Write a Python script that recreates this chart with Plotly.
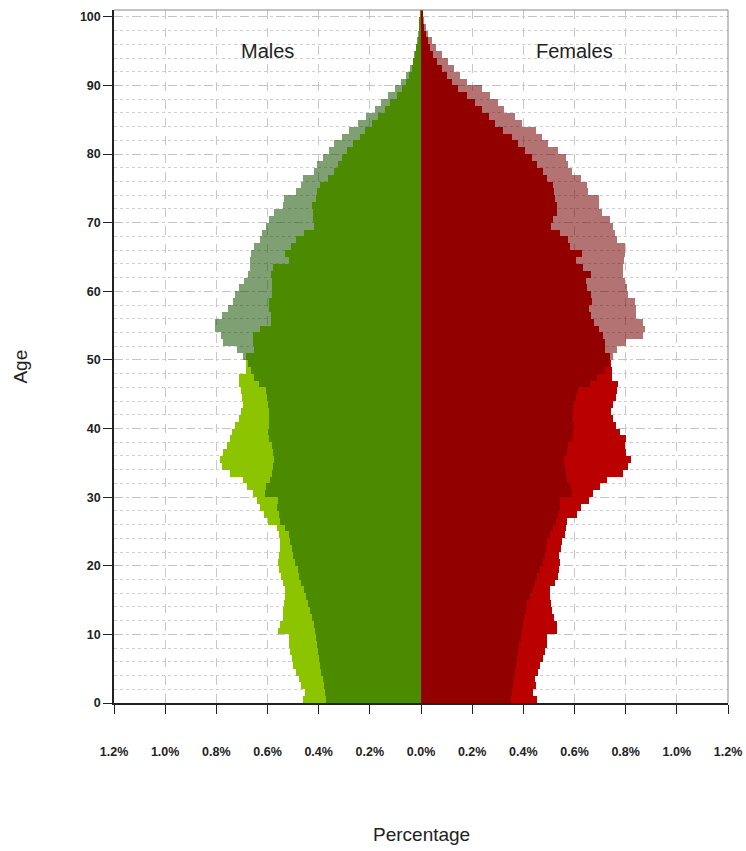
import plotly.graph_objects as go

ages = list(range(0, 101))

male_total = [
    0.463, 0.455, 0.471, 0.475, 0.488, 0.502, 0.503, 0.512, 0.516, 0.515,
    0.559, 0.553, 0.540, 0.538, 0.537, 0.533, 0.532, 0.540, 0.548, 0.557,
    0.560, 0.556, 0.550, 0.550, 0.555, 0.563, 0.598, 0.615, 0.628, 0.643,
    0.658, 0.680, 0.696, 0.748, 0.776, 0.785, 0.775, 0.759, 0.746, 0.737,
    0.728, 0.713, 0.703, 0.697, 0.700, 0.705, 0.712, 0.712, 0.686, 0.686,
    0.696, 0.720, 0.774, 0.783, 0.804, 0.806, 0.778, 0.755, 0.735, 0.729,
    0.713, 0.692, 0.677, 0.670, 0.667, 0.664, 0.651, 0.628, 0.621, 0.606,
    0.593, 0.573, 0.541, 0.534, 0.489, 0.470, 0.463, 0.420, 0.408, 0.384,
    0.360, 0.340, 0.310, 0.280, 0.245, 0.215, 0.180, 0.155, 0.128, 0.102,
    0.080, 0.059, 0.043, 0.033, 0.026, 0.020, 0.014, 0.010, 0.007, 0.004,
    0.002,
]

male_base = [
    0.372, 0.376, 0.381, 0.385, 0.389, 0.394, 0.398, 0.402, 0.405, 0.409,
    0.414, 0.420, 0.427, 0.433, 0.441, 0.450, 0.459, 0.470, 0.476, 0.482,
    0.493, 0.501, 0.506, 0.511, 0.516, 0.530, 0.551, 0.554, 0.563, 0.560,
    0.609, 0.606, 0.589, 0.582, 0.580, 0.576, 0.578, 0.584, 0.593, 0.599,
    0.595, 0.593, 0.593, 0.599, 0.603, 0.606, 0.632, 0.651, 0.664, 0.677,
    0.683, 0.651, 0.655, 0.655, 0.628, 0.586, 0.586, 0.593, 0.593, 0.584,
    0.584, 0.584, 0.586, 0.580, 0.515, 0.532, 0.508, 0.489, 0.457, 0.418,
    0.424, 0.424, 0.427, 0.411, 0.405, 0.394, 0.365, 0.340, 0.323, 0.310,
    0.290, 0.264, 0.238, 0.219, 0.193, 0.167, 0.141, 0.121, 0.095, 0.076,
    0.059, 0.046, 0.037, 0.030, 0.023, 0.018, 0.013, 0.009, 0.007, 0.004,
    0.002,
]

female_total = [
    0.454, 0.439, 0.448, 0.445, 0.458, 0.464, 0.475, 0.484, 0.493, 0.493,
    0.533, 0.532, 0.519, 0.513, 0.510, 0.506, 0.503, 0.523, 0.535, 0.539,
    0.542, 0.539, 0.548, 0.552, 0.561, 0.568, 0.569, 0.608, 0.627, 0.658,
    0.673, 0.700, 0.728, 0.790, 0.810, 0.819, 0.803, 0.797, 0.801, 0.777,
    0.762, 0.751, 0.742, 0.751, 0.762, 0.767, 0.771, 0.745, 0.745, 0.742,
    0.749, 0.765, 0.803, 0.868, 0.875, 0.868, 0.842, 0.842, 0.836, 0.810,
    0.807, 0.797, 0.790, 0.790, 0.793, 0.797, 0.797, 0.765, 0.758, 0.749,
    0.738, 0.706, 0.697, 0.697, 0.654, 0.647, 0.627, 0.589, 0.576, 0.565,
    0.536, 0.497, 0.474, 0.448, 0.393, 0.367, 0.326, 0.302, 0.270, 0.237,
    0.178, 0.152, 0.130, 0.107, 0.081, 0.057, 0.042, 0.029, 0.020, 0.013,
    0.009,
]

female_base = [
    0.352, 0.357, 0.361, 0.365, 0.368, 0.372, 0.374, 0.378, 0.383, 0.390,
    0.394, 0.397, 0.403, 0.409, 0.415, 0.426, 0.436, 0.445, 0.454, 0.464,
    0.475, 0.484, 0.490, 0.494, 0.503, 0.516, 0.527, 0.536, 0.543, 0.545,
    0.589, 0.586, 0.569, 0.566, 0.563, 0.560, 0.569, 0.576, 0.595, 0.595,
    0.598, 0.595, 0.595, 0.598, 0.605, 0.615, 0.660, 0.686, 0.719, 0.736,
    0.738, 0.719, 0.719, 0.712, 0.697, 0.677, 0.663, 0.658, 0.667, 0.663,
    0.650, 0.645, 0.663, 0.634, 0.606, 0.628, 0.582, 0.576, 0.543, 0.507,
    0.517, 0.530, 0.533, 0.523, 0.520, 0.515, 0.491, 0.475, 0.452, 0.432,
    0.406, 0.380, 0.354, 0.322, 0.289, 0.266, 0.237, 0.211, 0.178, 0.146,
    0.120, 0.100, 0.081, 0.061, 0.048, 0.035, 0.026, 0.018, 0.013, 0.009,
    0.007,
]

tick_vals = [-1.2, -1.0, -0.8, -0.6, -0.4, -0.2, 0.0, 0.2, 0.4, 0.6, 0.8, 1.0, 1.2]
tick_text = ["1.2%", "1.0%", "0.8%", "0.6%", "0.4%", "0.2%", "0.0%",
             "0.2%", "0.4%", "0.6%", "0.8%", "1.0%", "1.2%"]
age_ticks = [0, 10, 20, 30, 40, 50, 60, 70, 80, 90, 100]

FONT = "Liberation Sans, Arial, sans-serif"
GREEN_DARK = "#4c8a00"
GREEN_LIGHT = "#8dc400"
GREEN_GREY = "rgba(22,82,0,0.55)"
RED_DARK = "#930000"
RED_LIGHT = "#bb0000"
RED_PINK = "rgba(118,0,0,0.55)"

y_pos = [a + 0.5 for a in ages]
male_outer_colors = [GREEN_LIGHT if a < 50 else GREEN_GREY for a in ages]
female_outer_colors = [RED_LIGHT if a < 50 else RED_PINK for a in ages]

fig = go.Figure()
fig.add_trace(go.Bar(y=y_pos, x=[-v for v in male_total], orientation="h", width=1,
                     marker=dict(color=male_outer_colors, line=dict(width=0)),
                     name="Males total", showlegend=False))
fig.add_trace(go.Bar(y=y_pos, x=female_total, orientation="h", width=1,
                     marker=dict(color=female_outer_colors, line=dict(width=0)),
                     name="Females total", showlegend=False))
fig.add_trace(go.Bar(y=y_pos, x=[-v for v in male_base], orientation="h", width=1,
                     marker=dict(color=GREEN_DARK, line=dict(width=0)),
                     name="Males", showlegend=False))
fig.add_trace(go.Bar(y=y_pos, x=female_base, orientation="h", width=1,
                     marker=dict(color=RED_DARK, line=dict(width=0)),
                     name="Females", showlegend=False))

fig.update_layout(
    width=746, height=851,
    margin=dict(l=114, r=18, t=10, b=148, autoexpand=False),
    paper_bgcolor="white", plot_bgcolor="white",
    barmode="overlay", bargap=0,
    font=dict(family=FONT, size=12, color="#222222"),
    showlegend=False,
)

TICKFONT = dict(family=FONT, size=12.5, color="#222222", weight=600)

fig.update_xaxes(
    range=[-1.2, 1.2], tickvals=tick_vals, ticktext=tick_text,
    ticks="outside", ticklen=9, tickwidth=1.2, tickcolor="#222222",
    ticklabelstandoff=27, automargin=False,
    tickfont=TICKFONT,
    showline=True, linecolor="#222222", linewidth=1.5,
    showgrid=True, gridcolor="#c8c8c8", gridwidth=1, griddash="dash",
    zeroline=False,
)
fig.update_yaxes(
    range=[0, 101], tickvals=age_ticks, automargin=False,
    ticks="outside", ticklen=9, tickwidth=1.2, tickcolor="#222222",
    tickfont=TICKFONT,
    showline=True, linecolor="#222222", linewidth=1.5,
    showgrid=True, gridcolor="#c4c4c4", gridwidth=1, griddash="dash",
    minor=dict(dtick=2, showgrid=True, gridcolor="#cfcfcf", gridwidth=1, griddash="dot"),
    zeroline=False,
)

# thin grey frame on top and right
fig.add_shape(type="line", xref="x domain", yref="y domain", x0=0, x1=1, y0=1, y1=1,
              line=dict(color="#888888", width=1))
fig.add_shape(type="line", xref="x domain", yref="y domain", x0=1, x1=1, y0=0, y1=1,
              line=dict(color="#888888", width=1))

fig.add_annotation(x=-0.6, y=95, xref="x", yref="y", text="Males", showarrow=False,
                   font=dict(family=FONT, size=20, color="#222222"))
fig.add_annotation(x=0.6, y=95, xref="x", yref="y", text="Females", showarrow=False,
                   font=dict(family=FONT, size=20, color="#222222"))
fig.add_annotation(x=0.5, y=-0.19, xref="paper", yref="paper", text="Percentage",
                   showarrow=False, xanchor="center", yanchor="middle",
                   font=dict(family=FONT, size=19, color="#222222"))
fig.add_annotation(x=-0.152, y=0.485, xref="paper", yref="paper", text="Age",
                   showarrow=False, textangle=-90, xanchor="center", yanchor="middle",
                   font=dict(family=FONT, size=19, color="#222222"))

fig.write_html(
    "out.html",
    config={"displayModeBar": False},
    post_script="document.body.style.margin='0px';document.body.style.overflow='hidden';",
)
